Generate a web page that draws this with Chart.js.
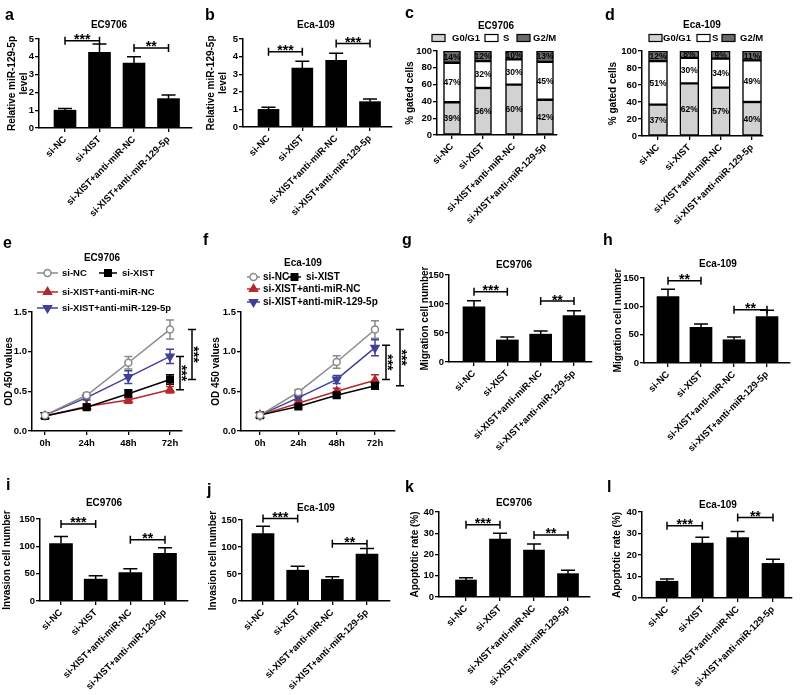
<!DOCTYPE html>
<html>
<head>
<meta charset="utf-8">
<title>XIST / miR-129-5p</title>
<script src="https://cdn.jsdelivr.net/npm/chart.js@4.4.1/dist/chart.umd.min.js"></script>
<style>
  html, body { margin: 0; padding: 0; background: #fff; }
  #fig { position: relative; width: 800px; height: 695px; overflow: hidden;
         font-family: 'Liberation Sans', Arial, sans-serif; font-weight: bold; color: #000; }
  #fig canvas { position: absolute; }
  .lt { position: absolute; font-size: 16px; line-height: 16px; }
  .tt { position: absolute; font-size: 10px; line-height: 11px; white-space: nowrap; transform: translate(-50%, -50%); }
</style>
</head>
<body>
<div id="fig"></div>
<script>
// ---------- data ----------
var groups = ['si-NC', 'si-XIST', 'si-XIST+anti-miR-NC', 'si-XIST+anti-miR-129-5p'];

// a, b  relative miR-129-5p level
var mirEC = [1.0, 4.25, 3.65, 1.65];
var mirECsd = [0.1, 0.47, 0.35, 0.2];
var mirEca = [1.0, 3.35, 3.79, 1.44];
var mirEcaSd = [0.12, 0.38, 0.4, 0.15];
var sigA = [[0, 1, 4.9, '***'], [2, 3, 4.5, '**']];
var sigB = [[0, 1, 4.28, '***'], [2, 3, 4.75, '***']];

// c, d  cell cycle (% gated cells)
var phases = ['G0/G1', 'S', 'G2/M'];
var cycEC_G1 = [39, 56, 60, 42];
var cycEC_S = [47, 32, 30, 45];
var cycEC_G2 = [14, 12, 10, 13];
var cycEca_G1 = [37, 62, 57, 40];
var cycEca_S = [51, 30, 34, 49];
var cycEca_G2 = [12, 8, 9, 11];

// e, f  OD 450
var hours = [0, 24, 48, 72];
var hourLabels = ['0h', '24h', '48h', '72h'];
var odEC_nc = [0.20, 0.45, 0.86, 1.28];
var odEC_ncSd = [0.02, 0.03, 0.08, 0.12];
var odEC_xist = [0.19, 0.30, 0.47, 0.65];
var odEC_xistSd = [0.02, 0.03, 0.05, 0.06];
var odEC_antiNC = [0.19, 0.31, 0.39, 0.52];
var odEC_antiNCSd = [0.02, 0.03, 0.04, 0.04];
var odEC_anti129 = [0.20, 0.42, 0.68, 0.94];
var odEC_anti129Sd = [0.02, 0.03, 0.08, 0.09];
var odEca_nc = [0.20, 0.49, 0.87, 1.28];
var odEca_ncSd = [0.02, 0.03, 0.08, 0.11];
var odEca_xist = [0.20, 0.31, 0.45, 0.57];
var odEca_xistSd = [0.02, 0.02, 0.03, 0.04];
var odEca_antiNC = [0.20, 0.35, 0.50, 0.64];
var odEca_antiNCSd = [0.02, 0.03, 0.04, 0.07];
var odEca_anti129 = [0.20, 0.42, 0.65, 1.05];
var odEca_anti129Sd = [0.02, 0.03, 0.05, 0.10];
var sigE = [[0.52, 0.94, '***'], [0.65, 1.28, '***']];
var sigF = [[0.65, 1.08, '***'], [0.57, 1.28, '***']];

// g, h  migration
var migEC = [95, 38, 48, 80];
var migECsd = [10.5, 5, 5.5, 8.5];
var migEca = [117, 63, 41, 82];
var migEcaSd = [13, 6, 5, 11];
var sigG = [[0, 1, 121, '***'], [2, 3, 105, '**']];
var sigH = [[0, 1, 145, '**'], [2, 3, 94, '**']];

// i, j  invasion
var invEC = [105, 40, 52, 87];
var invECsd = [13, 6, 7, 10.5];
var invEca = [125, 57, 40, 87];
var invEcaSd = [13.5, 7.5, 5, 10];
var sigI = [[0, 1, 141, '***'], [2, 3, 112, '**']];
var sigJ = [[0, 1, 153, '***'], [2, 3, 106, '**']];

// k, l  apoptosis
var apoEC = [8, 27.2, 22.1, 11];
var apoECsd = [1.1, 2.8, 2.9, 1.6];
var apoEca = [7.8, 25.5, 28.1, 16.1];
var apoEcaSd = [1, 2.8, 2.8, 1.9];
var sigK = [[0, 1, 34, '***'], [2, 3, 29.2, '**']];
var sigL = [[0, 1, 33.6, '***'], [2, 3, 37.5, '**']];

// ---------- layout (page pixels) ----------
var P = {
  a: {box: [0, 0, 200, 230], L: 39, R: 192, top: 39, bot: 128, c0: 65, c3: 168.5, tx: 12.5, bw: 22},
  b: {box: [200, 0, 200, 230], L: 243, R: 392, top: 39, bot: 127, c0: 268.5, c3: 370, tx: 211.5, bw: 21},
  c: {box: [400, 0, 200, 230], L: 437, R: 557, top: 51, bot: 135, c0: 452, c3: 545, tx: 410, bw: 17},
  d: {box: [600, 0, 200, 230], L: 642, R: 763, top: 51, bot: 136, c0: 658, c3: 752, tx: 613, bw: 19},
  e: {box: [0, 230, 200, 225], L: 32, R: 182, top: 312, bot: 431, x0: 45, x72: 170, tx: 9},
  f: {box: [200, 230, 225, 225], L: 241, R: 395, top: 312, bot: 431, x0: 260, x72: 375, tx: 216},
  g: {box: [400, 230, 200, 225], L: 449, R: 592, top: 275, bot: 362, c0: 474, c3: 574, tx: 425, bw: 22},
  h: {box: [600, 230, 200, 225], L: 644, R: 790, top: 278, bot: 363, c0: 668, c3: 767, tx: 618, bw: 22},
  i: {box: [0, 455, 200, 240], L: 40, R: 188, top: 519, bot: 601, c0: 61, c3: 165, tx: 7, bw: 23},
  j: {box: [200, 455, 200, 240], L: 242, R: 390, top: 520, bot: 601, c0: 263, c3: 367, tx: 213, bw: 22},
  k: {box: [400, 455, 200, 240], L: 439, R: 590, top: 512, bot: 597, c0: 466, c3: 568, tx: 415, bw: 21},
  l: {box: [600, 455, 200, 240], L: 642, R: 792, top: 512, bot: 598, c0: 667, c3: 773, tx: 617, bw: 22}
};

var FAM = "'Liberation Sans', Arial, sans-serif";
Chart.defaults.font.family = FAM;
Chart.defaults.font.weight = 'bold';
Chart.defaults.color = '#000';

var fig = document.getElementById('fig');
var extras = {};

function place(id, b) {
  var c = document.createElement('canvas');
  c.id = id;
  c.width = b[2];
  c.height = b[3];
  c.style.left = b[0] + 'px';
  c.style.top = b[1] + 'px';
  fig.appendChild(c);
  return c;
}

function text(cls, str, x, y) {
  var d = document.createElement('div');
  d.className = cls;
  d.textContent = str;
  d.style.left = x + 'px';
  d.style.top = y + 'px';
  fig.appendChild(d);
}

function pts(xs, ys) {
  return ys.map(function (v, i) { return {x: xs[i], y: v}; });
}

function drawMark(ctx, ds, x, y) {
  ctx.fillStyle = ds.pointBackgroundColor;
  ctx.strokeStyle = ds.pointBorderColor;
  ctx.lineWidth = ds.pointBorderWidth;
  Chart.helpers.drawPoint(ctx, {pointStyle: ds.pointStyle, rotation: ds.pointRotation || 0,
    radius: ds.pointRadius, borderWidth: ds.pointBorderWidth}, x, y);
}

var decor = {
  id: 'decor',
  beforeDatasetsDraw: function (chart) {
    var ctx = chart.ctx, xs = chart.scales.x, ys = chart.scales.y;
    var isBar = chart.config.type === 'bar';
    ctx.save();
    chart.data.datasets.forEach(function (ds) {
      if (!ds.errs) return;
      ctx.strokeStyle = isBar ? '#000' : ds.borderColor;
      ctx.lineWidth = 1.5;
      var cap = isBar ? 7 : 4;
      ds.data.forEach(function (pt, i) {
        var x = xs.getPixelForValue(pt.x);
        var yt = ys.getPixelForValue(pt.y + ds.errs[i]);
        var yb = ys.getPixelForValue(isBar ? pt.y : pt.y - ds.errs[i]);
        ctx.beginPath();
        ctx.moveTo(x, yb); ctx.lineTo(x, yt);
        ctx.moveTo(x - cap, yt); ctx.lineTo(x + cap, yt);
        if (!isBar) { ctx.moveTo(x - cap, yb); ctx.lineTo(x + cap, yb); }
        ctx.stroke();
      });
    });
    ctx.restore();
  },
  afterDatasetsDraw: function (chart) {
    var ex = extras[chart.canvas.id] || {};
    var ctx = chart.ctx, xs = chart.scales.x, ys = chart.scales.y;
    ctx.save();
    ctx.strokeStyle = '#000';
    ctx.fillStyle = '#000';
    ctx.lineWidth = 1.5;

    (ex.sig || []).forEach(function (s) {
      var x1 = xs.getPixelForValue(s[0]), x2 = xs.getPixelForValue(s[1]), y = ys.getPixelForValue(s[2]);
      ctx.beginPath();
      ctx.moveTo(x1, y); ctx.lineTo(x2, y);
      ctx.moveTo(x1, y - 4); ctx.lineTo(x1, y + 4);
      ctx.moveTo(x2, y - 4); ctx.lineTo(x2, y + 4);
      ctx.stroke();
      ctx.font = 'bold 14px ' + FAM;
      ctx.textAlign = 'center';
      ctx.textBaseline = 'alphabetic';
      ctx.fillText(s[3], (x1 + x2) / 2, y + 3.5);
    });

    (ex.vsig || []).forEach(function (s, k) {
      var x = xs.getPixelForValue(hours[hours.length - 1]) + ex.gaps[k];
      var y1 = ys.getPixelForValue(s[0]), y2 = ys.getPixelForValue(s[1]);
      ctx.beginPath();
      ctx.moveTo(x, y1); ctx.lineTo(x, y2);
      ctx.moveTo(x - 4, y1); ctx.lineTo(x + 4, y1);
      ctx.moveTo(x - 4, y2); ctx.lineTo(x + 4, y2);
      ctx.stroke();
      ctx.save();
      ctx.translate(x - 3.5, (y1 + y2) / 2);
      ctx.rotate(Math.PI / 2);
      ctx.font = 'bold 14px ' + FAM;
      ctx.textAlign = 'center';
      ctx.textBaseline = 'alphabetic';
      ctx.fillText(s[2], 0, 0);
      ctx.restore();
    });

    if (ex.pct) {
      ctx.font = 'bold 8.5px ' + FAM;
      ctx.textAlign = 'center';
      ctx.textBaseline = 'middle';
      ctx.fillStyle = '#000';
      chart.data.datasets.forEach(function (ds, di) {
        chart.getDatasetMeta(di).data.forEach(function (el, i) {
          ctx.fillText(ds.data[i].y + '%', el.x, (el.y + el.base) / 2 + 0.5);
        });
      });
    }

    if (ex.boxLegend) {
      ctx.font = 'bold 9.5px ' + FAM;
      ctx.textAlign = 'left';
      ctx.textBaseline = 'middle';
      var y = ex.legendY - ex.oy;
      chart.data.datasets.forEach(function (ds, di) {
        var bx = ex.boxLegend[di][0] - ex.ox, tx = ex.boxLegend[di][1] - ex.ox;
        ctx.fillStyle = ds.backgroundColor;
        ctx.fillRect(bx, y - 3.5, 13, 7);
        ctx.lineWidth = 1.2;
        ctx.strokeStyle = '#000';
        ctx.strokeRect(bx, y - 3.5, 13, 7);
        ctx.fillStyle = '#000';
        ctx.fillText(ds.label, tx, y + 0.5);
      });
    }

    if (ex.lineLegend) {
      ctx.font = 'bold ' + ex.lf + 'px ' + FAM;
      ctx.textAlign = 'left';
      ctx.textBaseline = 'middle';
      chart.data.datasets.forEach(function (ds, di) {
        var it = ex.lineLegend[di];
        var x1 = it[0] - ex.ox, x2 = it[1] - ex.ox, y = it[2] - ex.oy, tx = it[3] - ex.ox;
        ctx.strokeStyle = ds.borderColor;
        ctx.lineWidth = 1.5;
        ctx.beginPath();
        ctx.moveTo(x1, y); ctx.lineTo(x2, y);
        ctx.stroke();
        drawMark(ctx, ds, (x1 + x2) / 2, y);
        ctx.fillStyle = '#000';
        ctx.fillText(ds.label, tx, y + 0.5);
      });
    }
    ctx.restore();
  }
};

function gridStyle() {
  return {display: true, drawOnChartArea: false, drawTicks: true, tickLength: 4,
          color: '#000', lineWidth: 1.3, offset: false};
}
function borderStyle() {
  return {display: true, color: '#000', width: 1.5};
}

function yAxis(p, max, step, title, fmt) {
  return {
    min: 0, max: max,
    ticks: {stepSize: step, padding: 1, font: {size: 9.5},
            callback: fmt || function (v) { return v; }},
    grid: gridStyle(), border: borderStyle(),
    title: {display: true, text: title, padding: 0, font: {size: 10, lineHeight: 1.2}},
    afterFit: function (sc) { sc.width = p.L - (p.tx - 6); }
  };
}

function catAxis(p, stacked) {
  var s = (p.c3 - p.c0) / 3;
  return {
    type: 'linear', offset: false, stacked: stacked,
    min: -(p.c0 - p.L) / s, max: 3 + (p.R - p.c3) / s,
    afterBuildTicks: function (sc) { sc.ticks = groups.map(function (g, i) { return {value: i}; }); },
    afterFit: function (sc) { sc.height = 90; },
    ticks: {autoSkip: false, minRotation: 45, maxRotation: 45, padding: 2, font: {size: 9.5},
            callback: function (v) { return groups[v]; }},
    grid: gridStyle(), border: borderStyle()
  };
}

function pad(p, xh) {
  return {left: p.tx - 6 - p.box[0], right: p.box[0] + p.box[2] - p.R,
          top: p.top - p.box[1], bottom: p.box[1] + p.box[3] - p.bot - xh};
}

function baseOpts(p, xh, scales) {
  return {
    responsive: false, animation: false, devicePixelRatio: 1,
    layout: {padding: pad(p, xh)},
    plugins: {legend: {display: false}, tooltip: {enabled: false}, title: {display: false}},
    scales: scales
  };
}

function barPanel(id, vals, sd, sig, max, step, ytitle) {
  var p = P[id];
  var cv = place(id, p.box);
  extras[id] = {sig: sig};
  new Chart(cv, {
    type: 'bar',
    data: {datasets: [{data: pts([0, 1, 2, 3], vals), errs: sd, backgroundColor: '#000', barThickness: p.bw}]},
    options: baseOpts(p, 90, {x: catAxis(p, false), y: yAxis(p, max, step, ytitle)}),
    plugins: [decor]
  });
}

function cyclePanel(id, g1, s, g2, legendBoxes) {
  var p = P[id];
  var cv = place(id, p.box);
  extras[id] = {pct: true, boxLegend: legendBoxes, legendY: 38, ox: p.box[0], oy: p.box[1]};
  var cols = ['#d2d2d2', '#ffffff', '#6b6b6b'];
  var sets = [g1, s, g2].map(function (arr, k) {
    return {label: phases[k], data: pts([0, 1, 2, 3], arr), backgroundColor: cols[k],
            borderColor: '#000', borderWidth: 1.5, borderSkipped: false, barThickness: p.bw};
  });
  var y = yAxis(p, 100, 20, '% gated cells');
  y.stacked = true;
  new Chart(cv, {
    type: 'bar',
    data: {datasets: sets},
    options: baseOpts(p, 90, {x: catAxis(p, true), y: y}),
    plugins: [decor]
  });
}

function lineDs(k, vals, sd) {
  var st = [
    {c: '#8a8a8a', ps: 'circle', r: 3.5, rot: 0, bg: '#ffffff'},
    {c: '#000000', ps: 'rect', r: 4.6, rot: 0, bg: '#000000'},
    {c: '#b3282d', ps: 'triangle', r: 4.6, rot: 0, bg: '#b3282d'},
    {c: '#40409a', ps: 'triangle', r: 4.6, rot: 180, bg: '#40409a'}
  ][k];
  return {label: groups[k], data: pts(hours, vals), errs: sd, borderColor: st.c, backgroundColor: st.c,
          borderWidth: 1.5, tension: 0, pointStyle: st.ps, pointRotation: st.rot, pointRadius: st.r,
          pointBackgroundColor: st.bg, pointBorderColor: st.c, pointBorderWidth: 1.5};
}

function odPanel(id, sets, vsig, gaps, legend, lf) {
  var p = P[id];
  var cv = place(id, p.box);
  extras[id] = {vsig: vsig, gaps: gaps, lineLegend: legend, lf: lf, ox: p.box[0], oy: p.box[1]};
  var ppx = (p.x72 - p.x0) / 72;
  new Chart(cv, {
    type: 'line',
    data: {datasets: sets},
    options: baseOpts(p, 20, {
      x: {type: 'linear', offset: false,
          min: -(p.x0 - p.L) / ppx, max: 72 + (p.R - p.x72) / ppx,
          afterBuildTicks: function (sc) { sc.ticks = hours.map(function (h) { return {value: h}; }); },
          afterFit: function (sc) { sc.height = 20; },
          ticks: {autoSkip: false, maxRotation: 0, padding: 3, font: {size: 9.5},
                  callback: function (v) { return hourLabels[hours.indexOf(v)]; }},
          grid: gridStyle(), border: borderStyle()},
      y: yAxis(p, 1.5, 0.5, 'OD 450 values', function (v) { return v.toFixed(1); })
    }),
    plugins: [decor]
  });
}

// ---------- panels ----------
barPanel('a', mirEC, mirECsd, sigA, 5, 1, ['Relative miR-129-5p', 'level']);
barPanel('b', mirEca, mirEcaSd, sigB, 5, 1, ['Relative miR-129-5p', 'level']);
cyclePanel('c', cycEC_G1, cycEC_S, cycEC_G2, [[432, 452], [485, 503], [517, 533]]);
cyclePanel('d', cycEca_G1, cycEca_S, cycEca_G2, [[649, 663], [697, 712], [722, 740]]);
odPanel('e', [lineDs(0, odEC_nc, odEC_ncSd), lineDs(1, odEC_xist, odEC_xistSd),
              lineDs(2, odEC_antiNC, odEC_antiNCSd), lineDs(3, odEC_anti129, odEC_anti129Sd)],
        sigE, [10, 22], [[37, 58, 273, 62], [99, 117, 273, 122], [37, 58, 292, 62], [37, 58, 308, 62]], 9.5);
odPanel('f', [lineDs(0, odEca_nc, odEca_ncSd), lineDs(1, odEca_xist, odEca_xistSd),
              lineDs(2, odEca_antiNC, odEca_antiNCSd), lineDs(3, odEca_anti129, odEca_anti129Sd)],
        sigF, [11, 25], [[247, 260, 277, 263], [288, 301, 277, 306], [247, 260, 289, 263], [247, 260, 302, 263]], 10);
barPanel('g', migEC, migECsd, sigG, 150, 50, 'Migration cell number');
barPanel('h', migEca, migEcaSd, sigH, 150, 50, 'Migration cell number');
barPanel('i', invEC, invECsd, sigI, 150, 50, 'Invasion cell number');
barPanel('j', invEca, invEcaSd, sigJ, 150, 50, 'Invasion cell number');
barPanel('k', apoEC, apoECsd, sigK, 40, 10, 'Apoptotic rate (%)');
barPanel('l', apoEca, apoEcaSd, sigL, 40, 10, 'Apoptotic rate (%)');

// ---------- titles and panel letters ----------
[['EC9706', 109, 24], ['Eca-109', 316, 24], ['EC9706', 496, 25], ['Eca-109', 702, 24],
 ['EC9706', 102, 257], ['Eca-109', 303, 262], ['EC9706', 514, 264], ['Eca-109', 718, 263],
 ['EC9706', 104, 502], ['Eca-109', 316, 507], ['EC9706', 514, 502], ['Eca-109', 718, 504]
].forEach(function (t) { text('tt', t[0], t[1], t[2]); });

[['a', 5, 7], ['b', 205, 7], ['c', 405, 4.5], ['d', 605, 6.5],
 ['e', 3, 234.5], ['f', 203, 231.5], ['g', 402, 231.5], ['h', 603, 231.5],
 ['i', 6, 476.5], ['j', 207, 481.5], ['k', 405, 478.5], ['l', 607, 478.5]
].forEach(function (t) { text('lt', t[0], t[1], t[2]); });
</script>
</body>
</html>
